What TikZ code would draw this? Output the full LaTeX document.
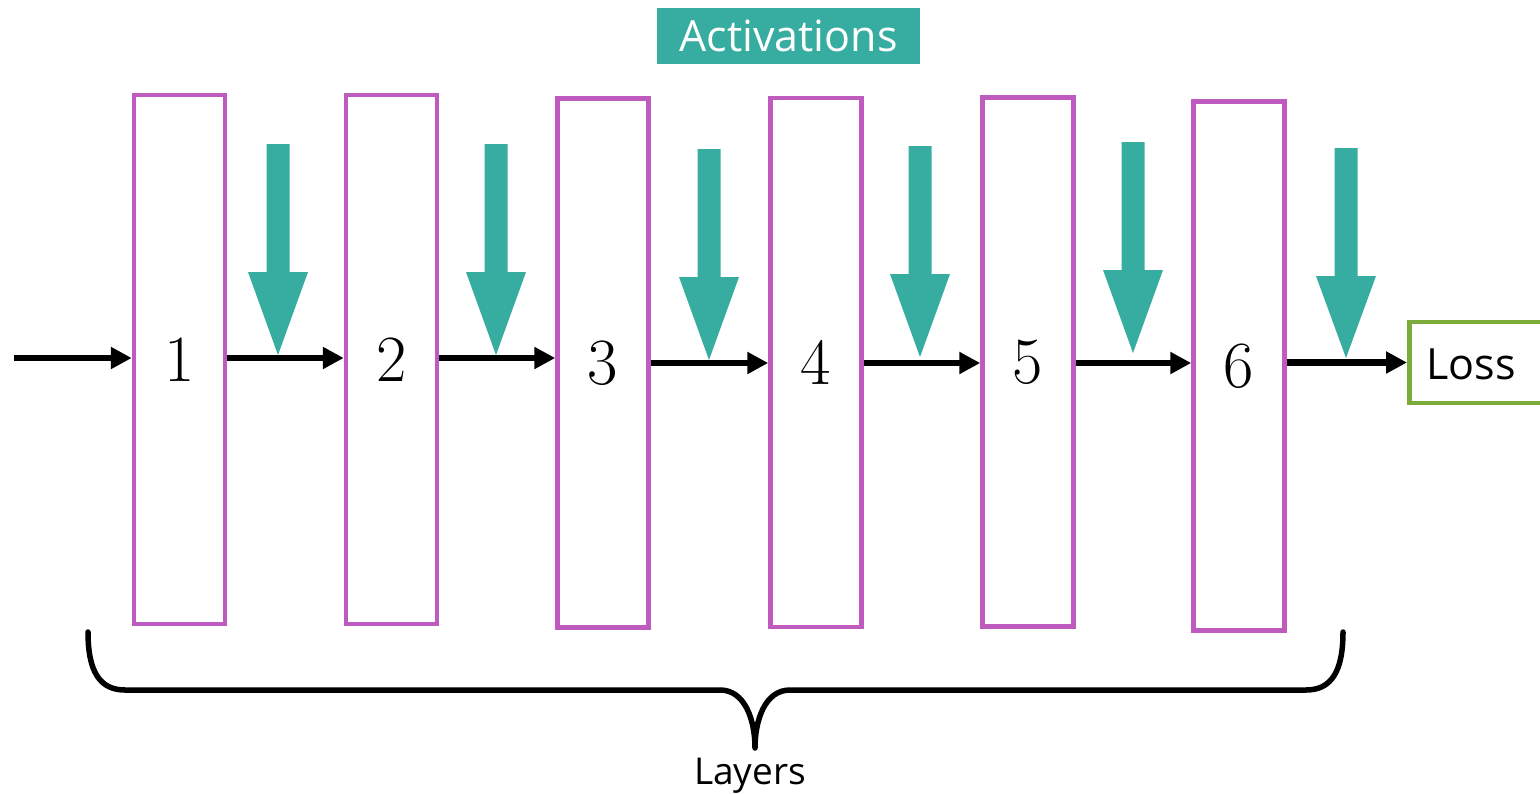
\documentclass[tikz,border=0pt]{standalone}
\usepackage{fontspec}
\setsansfont{Open Sans}
\usetikzlibrary{arrows.meta,calc}

\definecolor{layerpurple}{RGB}{191,91,191}
\definecolor{actteal}{RGB}{54,173,160}
\definecolor{lossgreen}{RGB}{123,172,58}

\tikzset{
  layer/.style={draw=layerpurple, line width=4.5pt, fill=white,
    minimum width=91pt, minimum height=529pt, inner sep=0pt,
    font=\fontsize{66}{66}\selectfont},
  flow/.style={line width=6.5pt, -{Triangle[length=21pt,width=21pt]}},
  actarrow/.style={fill=actteal},
  lossbox/.style={draw=lossgreen, line width=4.5pt, fill=white,
    minimum width=143pt, minimum height=81pt, inner sep=0pt},
  label/.style={font=\sffamily\fontsize{34}{34}\selectfont, inner sep=0pt},
  brace/.style={line width=5.5pt, line cap=round, line join=round}
}

\begin{document}
\begin{tikzpicture}[x=1pt, y=-1pt]
  \useasboundingbox (0,0) rectangle (1540,793);

  % activation header
  \node[fill=actteal, text=white, label, font=\sffamily\fontsize{43}{43}\selectfont,
    minimum width=263pt, minimum height=56pt] (act) at (788.5,36) {Activations};

  % layer boxes
  \node[layer] (L1) at (179.5,359.5) {1};
  \node[layer] (L2) at (391.5,359.5) {2};
  \node[layer] (L3) at (603,363) {3};
  \node[layer] (L4) at (816,362.5) {4};
  \node[layer] (L5) at (1028,362) {5};
  \node[layer] (L6) at (1239,366) {6};

  % loss box (runs off the right edge)
  \node[lossbox, anchor=west] (loss) at (1407,362.5) {};
  \node[label, font=\sffamily\fontsize{43}{43}\selectfont, anchor=west] (losstxt) at (1426,364) {Loss};

  % forward connections
  \coordinate (in) at (14,358);
  \draw[flow] (in) -- (in -| L1.west);
  \draw[flow] (L1.east |- 0,358) -- (L2.west |- 0,358);
  \draw[flow] (L2.east |- 0,358) -- (L3.west |- 0,358);
  \draw[flow] (L3.east |- 0,363) -- (L4.west |- 0,363);
  \draw[flow] (L4.east |- 0,363) -- (L5.west |- 0,363);
  \draw[flow] (L5.east |- 0,363) -- (L6.west |- 0,363);
  \draw[flow] (L6.east |- loss.west) -- (loss.west);

  % activation arrows: {tip x / shaft top / head base / tip y}
  \foreach \x/\t/\h/\p in {278/144/272/355, 496/144/272/355, 709/149/277/360,
                           920/146/274/357, 1133/142/270/353, 1346/148/276/358}{
    \fill[actarrow] (\x-11.5,\t) -- (\x+11.5,\t) -- (\x+11.5,\h) -- (\x+30,\h)
      -- (\x,\p) -- (\x-30,\h) -- (\x-11.5,\h) -- cycle;
  }

  % brace under the layers
  \coordinate (bl) at (88,632);
  \coordinate (br) at (1343,632);
  \coordinate (bt) at (755,748);
  \draw[brace] (bl) .. controls (88,672) and (100,690) .. (125,690) -- (720,690)
    .. controls (745,690) and (755,720) .. (bt)
    .. controls (755,720) and (765,690) .. (790,690) -- (1306,690)
    .. controls (1331,690) and (1343,672) .. (br);
  \node[label, font=\sffamily\fontsize{37}{37}\selectfont] (layers) at (750,776) {Layers};
\end{tikzpicture}
\end{document}
